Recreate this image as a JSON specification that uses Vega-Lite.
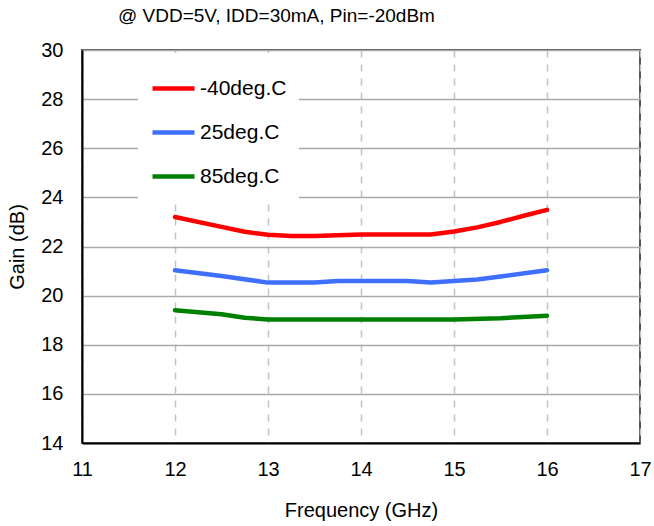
{
  "$schema": "https://vega.github.io/schema/vega-lite/v6.json",
  "autosize": "none",
  "padding": {"left": 82, "top": 50, "right": 14, "bottom": 83},
  "width": 558,
  "height": 393,
  "background": "white",
  "title": {
    "text": "@ VDD=5V, IDD=30mA, Pin=-20dBm",
    "anchor": "start",
    "frame": "group",
    "dx": 36,
    "offset": 14,
    "font": "Liberation Sans",
    "fontSize": 19,
    "fontWeight": "normal",
    "color": "#000000"
  },
  "config": {
    "view": {"stroke": "#555555", "strokeWidth": 2},
    "font": "Liberation Sans"
  },
  "data": {
    "values": [
      {"freq": 12, "temp": "-40deg.C", "gain": 23.2},
      {"freq": 12.5, "temp": "-40deg.C", "gain": 22.8},
      {"freq": 12.75, "temp": "-40deg.C", "gain": 22.6},
      {"freq": 13, "temp": "-40deg.C", "gain": 22.48},
      {"freq": 13.25, "temp": "-40deg.C", "gain": 22.43},
      {"freq": 13.5, "temp": "-40deg.C", "gain": 22.43},
      {"freq": 14, "temp": "-40deg.C", "gain": 22.49},
      {"freq": 14.5, "temp": "-40deg.C", "gain": 22.49},
      {"freq": 14.75, "temp": "-40deg.C", "gain": 22.49},
      {"freq": 15, "temp": "-40deg.C", "gain": 22.61},
      {"freq": 15.25, "temp": "-40deg.C", "gain": 22.78},
      {"freq": 15.5, "temp": "-40deg.C", "gain": 23.0},
      {"freq": 15.75, "temp": "-40deg.C", "gain": 23.25},
      {"freq": 16, "temp": "-40deg.C", "gain": 23.49},
      {"freq": 12, "temp": "25deg.C", "gain": 21.03},
      {"freq": 12.5, "temp": "25deg.C", "gain": 20.8},
      {"freq": 13, "temp": "25deg.C", "gain": 20.53},
      {"freq": 13.5, "temp": "25deg.C", "gain": 20.53},
      {"freq": 13.75, "temp": "25deg.C", "gain": 20.6},
      {"freq": 14, "temp": "25deg.C", "gain": 20.6},
      {"freq": 14.5, "temp": "25deg.C", "gain": 20.6},
      {"freq": 14.75, "temp": "25deg.C", "gain": 20.53},
      {"freq": 15, "temp": "25deg.C", "gain": 20.6},
      {"freq": 15.25, "temp": "25deg.C", "gain": 20.66},
      {"freq": 15.5, "temp": "25deg.C", "gain": 20.78},
      {"freq": 16, "temp": "25deg.C", "gain": 21.03},
      {"freq": 12, "temp": "85deg.C", "gain": 19.4},
      {"freq": 12.5, "temp": "85deg.C", "gain": 19.24},
      {"freq": 12.75, "temp": "85deg.C", "gain": 19.1},
      {"freq": 13, "temp": "85deg.C", "gain": 19.03},
      {"freq": 14, "temp": "85deg.C", "gain": 19.03},
      {"freq": 15, "temp": "85deg.C", "gain": 19.03},
      {"freq": 15.5, "temp": "85deg.C", "gain": 19.08},
      {"freq": 16, "temp": "85deg.C", "gain": 19.18}
    ]
  },
  "mark": {"type": "line", "strokeWidth": 4.5, "strokeCap": "round", "strokeJoin": "round"},
  "encoding": {
    "x": {
      "field": "freq",
      "type": "quantitative",
      "scale": {"domain": [11, 17], "nice": false},
      "axis": {
        "title": "Frequency (GHz)",
        "values": [11, 12, 13, 14, 15, 16, 17],
        "format": "d",
        "domainColor": "#000000",
        "domainWidth": 2,
        "ticks": false,
        "labelFont": "Liberation Sans",
        "labelFontSize": 20,
        "labelColor": "#000000",
        "labelPadding": 16,
        "labelFlush": false,
        "gridColor": "#c4c4c4",
        "gridDash": [7, 7],
        "gridWidth": 1.5,
        "titleFont": "Liberation Sans",
        "titleFontSize": 20,
        "titleFontWeight": "normal",
        "titleColor": "#000000",
        "titlePadding": 21
      }
    },
    "y": {
      "field": "gain",
      "type": "quantitative",
      "scale": {"domain": [14, 30], "nice": false, "zero": false},
      "axis": {
        "title": "Gain (dB)",
        "values": [14, 16, 18, 20, 22, 24, 26, 28, 30],
        "domainColor": "#000000",
        "domainWidth": 2,
        "ticks": false,
        "labelFont": "Liberation Sans",
        "labelFontSize": 20,
        "labelColor": "#000000",
        "labelPadding": 19,
        "labelFlush": false,
        "gridColor": "#aaaaaa",
        "gridWidth": 1.5,
        "titleFont": "Liberation Sans",
        "titleFontSize": 20,
        "titleFontWeight": "normal",
        "titleColor": "#000000",
        "titlePadding": 13
      }
    },
    "color": {
      "field": "temp",
      "type": "nominal",
      "scale": {
        "domain": ["-40deg.C", "25deg.C", "85deg.C"],
        "range": ["#ff0000", "#3f6fff", "#008000"]
      },
      "legend": {
        "title": null,
        "orient": "none",
        "legendX": 56,
        "legendY": 3,
        "fillColor": "white",
        "strokeColor": null,
        "padding": 12,
        "symbolType": "stroke",
        "symbolSize": 1764,
        "symbolStrokeWidth": 4.5,
        "labelFont": "Liberation Sans",
        "labelFontSize": 21,
        "labelColor": "#000000",
        "labelOffset": 3,
        "rowPadding": 10
      }
    }
  }
}
